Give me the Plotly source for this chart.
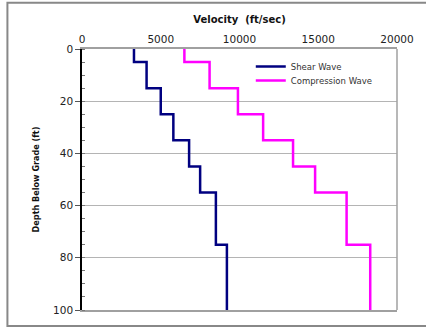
import plotly.graph_objects as go

depth_ft = [0, 5, 15, 25, 35, 45, 55, 75, 100]
shear_wave = [3300, 4100, 5000, 5800, 6800, 7500, 8500, 9200, 9200]
compression_wave = [6500, 8100, 9900, 11500, 13400, 14800, 16800, 18300, 18300]
x_ticks = [0, 5000, 10000, 15000, 20000]
y_ticks = [0, 20, 40, 60, 80, 100]

W, H = 426, 328
L, R, T, B = 82, 23, 49, 17
pw, ph = W - L - R, H - T - B

fig = go.Figure()
fig.add_trace(go.Scatter(x=shear_wave, y=depth_ft, mode="lines", line_shape="vh",
                         name="Shear Wave", legend="legend",
                         line=dict(color="#000080", width=2.5)))
fig.add_trace(go.Scatter(x=compression_wave, y=depth_ft, mode="lines", line_shape="vh",
                         name="Compression Wave", legend="legend2",
                         line=dict(color="#ff00ff", width=2.5)))

font_main = "DejaVu Sans, Arial, sans-serif"
leg_font = dict(family=font_main, size=8.5, color="#333333")

fig.update_layout(
    width=W, height=H,
    margin=dict(l=L, r=R, t=T, b=B, pad=0),
    paper_bgcolor="white", plot_bgcolor="white",
    showlegend=True,
    legend=dict(x=(254 - L) / pw, y=(311 - 52) / ph, xanchor="left", yanchor="top",
                bgcolor="rgba(0,0,0,0)", borderwidth=0, font=leg_font),
    legend2=dict(x=(254 - L) / pw, y=(311 - 66) / ph, xanchor="left", yanchor="top",
                 bgcolor="rgba(0,0,0,0)", borderwidth=0, font=leg_font),
    xaxis=dict(side="top", range=[0, 20000], tickvals=x_ticks,
               ticktext=[str(v) for v in x_ticks],
               showgrid=False, zeroline=False, showline=True, linecolor="#a0a0a0",
               linewidth=1.5, mirror=True, ticks="",
               tickfont=dict(family=font_main, size=10.5, color="#222222"),
               title=dict(text="<b>Velocity  (ft/sec)</b>", standoff=8,
                          font=dict(family=font_main, size=10, color="#111111"))),
    yaxis=dict(range=[100, 0], tickvals=y_ticks, ticktext=[str(v) for v in y_ticks],
               showgrid=True, gridcolor="#b4b4b4", gridwidth=1, zeroline=False,
               showline=True, linecolor="#000000", linewidth=1.5, mirror=False,
               ticks="outside", ticklen=5, tickcolor="#555555", tickwidth=1,
               minor=dict(dtick=5, ticks="inside", ticklen=3, tickcolor="#777777", showgrid=False),
               tickfont=dict(family=font_main, size=10.5, color="#222222"),
               title=dict(text="<b>Depth Below Grade (ft)</b>", standoff=12,
                          font=dict(family="DejaVu Sans Condensed, Liberation Sans Narrow, Liberation Sans, Arial",
                                    size=9, color="#111111"))),
    shapes=[
        dict(type="line", xref="x domain", yref="y domain", x0=1, x1=1, y0=0, y1=1,
             line=dict(color="#a0a0a0", width=1.5)),
        dict(type="rect", xref="paper", yref="paper",
             x0=(6 - L) / pw, x1=(440 - L) / pw,
             y0=(H - B - 327) / ph, y1=(H - B - 2.5) / ph,
             line=dict(color="#888888", width=2)),
    ],
)

fig.write_html("out.html")
